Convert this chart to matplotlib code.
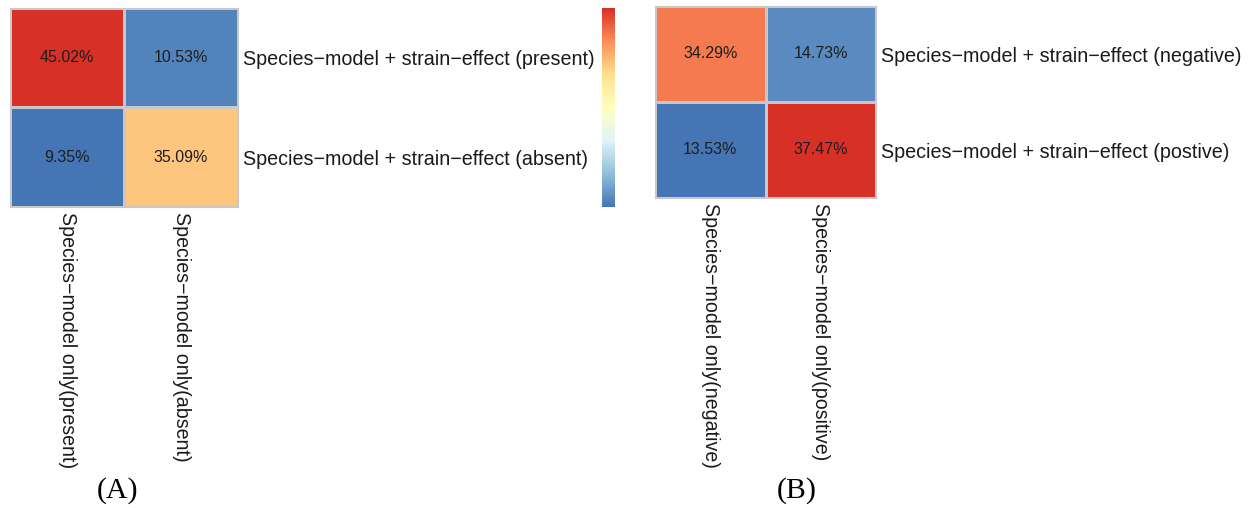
import numpy as np
import matplotlib
matplotlib.use("Agg")
import matplotlib.pyplot as plt
from matplotlib.colors import LinearSegmentedColormap, Normalize
from matplotlib.cm import ScalarMappable

# Percentages for the two cross-tabulations
panel_a_values = [[45.02, 10.53],
                  [9.35, 35.09]]
panel_a_rows = ["Species\u2212model + strain\u2212effect (present)",
                "Species\u2212model + strain\u2212effect (absent)"]
panel_a_cols = ["Species\u2212model only(present)",
                "Species\u2212model only(absent)"]

panel_b_values = [[34.29, 14.73],
                  [13.53, 37.47]]
panel_b_rows = ["Species\u2212model + strain\u2212effect (negative)",
                "Species\u2212model + strain\u2212effect (postive)"]
panel_b_cols = ["Species\u2212model only(negative)",
                "Species\u2212model only(positive)"]

panel_tags = ["(A)", "(B)"]

W, H = 1249, 508
DPI = 100
fig = plt.figure(figsize=(W / DPI, H / DPI), dpi=DPI)
fig.patch.set_facecolor("white")

SANS = "Liberation Sans"
SERIF = "Liberation Serif"

cmap = LinearSegmentedColormap.from_list(
    "rdylbu7",
    ["#4575B4", "#91BFDB", "#E0F3F8", "#FFFFBF", "#FEE090", "#FC8D59", "#D73027"],
)


def px_axes(left, top, right, bottom):
    return fig.add_axes([left / W, 1 - bottom / H, (right - left) / W, (bottom - top) / H])


def heatmap(box, values, rows, cols):
    ax = px_axes(*box)
    v = np.array(values, dtype=float)
    norm = Normalize(vmin=v.min(), vmax=v.max())
    ax.pcolormesh(v, cmap=cmap, norm=norm, edgecolors="#C8C8C8", linewidth=0.8)
    ax.set_xlim(0, v.shape[1])
    ax.set_ylim(v.shape[0], 0)
    for i in range(v.shape[0]):
        for j in range(v.shape[1]):
            ax.text(j + 0.5, i + 0.5, f"{v[i, j]:.2f}%", ha="center", va="center",
                    fontsize=11.5, family=SANS, color="#1e1e1e")
    ax.yaxis.tick_right()
    ax.set_yticks(np.arange(v.shape[0]) + 0.5)
    ax.set_yticklabels(rows, fontsize=14.2, family=SANS, color="#1a1a1a")
    ax.set_xticks(np.arange(v.shape[1]) + 0.5)
    ax.set_xticklabels(cols, fontsize=14.1, family=SANS, color="#1a1a1a",
                       rotation=-90, va="top", ha="center")
    ax.tick_params(length=0, pad=3.5)
    for s in ax.spines.values():
        s.set_color("#C8C8C8")
        s.set_linewidth(0.8)
    return ax


heatmap((10, 8, 238, 207), panel_a_values, panel_a_rows, panel_a_cols)
heatmap((655, 6, 876, 198), panel_b_values, panel_b_rows, panel_b_cols)

# Shared colour scale key (no ticks)
cax = px_axes(602, 8, 615, 207)
cb = fig.colorbar(ScalarMappable(norm=Normalize(0, 1), cmap=cmap), cax=cax)
cb.set_ticks([])
cb.outline.set_visible(False)

fig.text(118 / W, 1 - 491 / H, panel_tags[0], ha="center", va="center",
         fontsize=21.5, family=SERIF, color="black")
fig.text(797 / W, 1 - 491 / H, panel_tags[1], ha="center", va="center",
         fontsize=21.5, family=SERIF, color="black")

fig.savefig("out.png", dpi=DPI, facecolor="white")
